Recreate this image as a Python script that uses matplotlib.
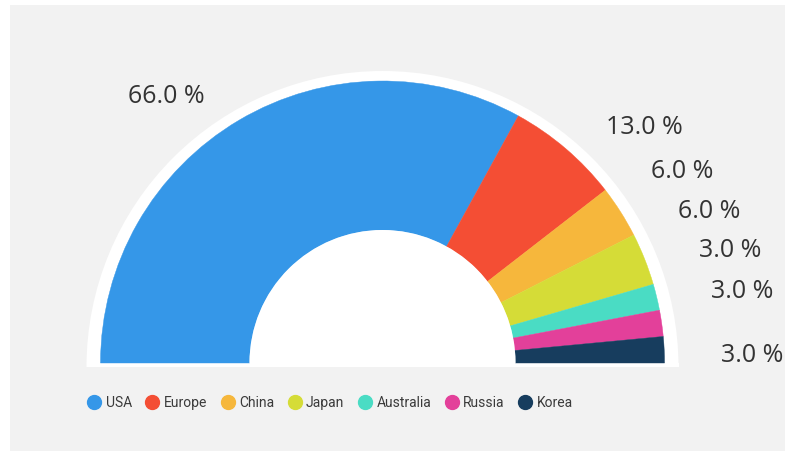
import numpy as np
import matplotlib.pyplot as plt
from matplotlib.patches import Wedge, Rectangle
from matplotlib.lines import Line2D

regions = ['USA', 'Europe', 'China', 'Japan', 'Australia', 'Russia', 'Korea']
shares = [66.0, 13.0, 6.0, 6.0, 3.0, 3.0, 3.0]
colors = ['#3597e8', '#f44e34', '#f6b73c', '#d5dc37', '#4adcc4', '#e3409a', '#173d5e']

W, H = 785, 451
fig = plt.figure(figsize=(W / 100, H / 100), dpi=100, facecolor='white')
ax = fig.add_axes([0, 0, 1, 1])
ax.set_xlim(0, W)
ax.set_ylim(0, H)
ax.set_aspect('equal')
ax.axis('off')

# grey panel
ax.add_patch(Rectangle((10, 0), W - 10, H - 5, facecolor='#f2f2f2', edgecolor='none', zorder=0))

cx, cy = 382.5, H - 363
r_out, r_in = 282, 133

# white halo behind the donut
ax.add_patch(Wedge((cx, cy - 4), 296, 0, 180, facecolor='white', edgecolor='none', zorder=1))
ax.add_patch(Rectangle((cx - 296, cy - 4), 592, 4, facecolor='white', edgecolor='none', zorder=1))

total = sum(shares)
start = 180.0
mids = []
for val, col in zip(shares, colors):
    sweep = val / total * 180.0
    ax.add_patch(Wedge((cx, cy), r_out, start - sweep, start, width=r_out - r_in,
                       facecolor=col, edgecolor=col, linewidth=0.3, zorder=2))
    mids.append(start - sweep / 2)
    start -= sweep
ax.add_patch(Wedge((cx, cy), r_in, 0, 180, facecolor='white', edgecolor='none', zorder=3))

# data labels, spread out to avoid overlap
label_shift = [8.4, -7.6, 0.2, 3.2, 4.4, 3.1, -1.5]
label_r = [343, 352, 356, 360, 365, 367, 370]
for val, m, dth, rr in zip(shares, mids, label_shift, label_r):
    a = np.radians(m + dth)
    ax.text(cx + rr * np.cos(a), cy + rr * np.sin(a), f'{val:.1f} %',
            ha='center', va='center', fontsize=18, color='#333333',
            family=['Open Sans', 'DejaVu Sans'], zorder=4)

handles = [Line2D([], [], marker='o', linestyle='none', markersize=10,
                  markerfacecolor=c, markeredgecolor=c) for c in colors]
leg = ax.legend(handles, regions, ncol=7, loc='center', bbox_to_anchor=(330 / W, 1 - 403 / H),
                frameon=False, handletextpad=0.3, columnspacing=1.0, handlelength=1.0,
                prop={'family': 'Roboto', 'size': 10})
for t in leg.get_texts():
    t.set_color('#3a3a3a')

fig.savefig('out.png', dpi=100, facecolor='white')
